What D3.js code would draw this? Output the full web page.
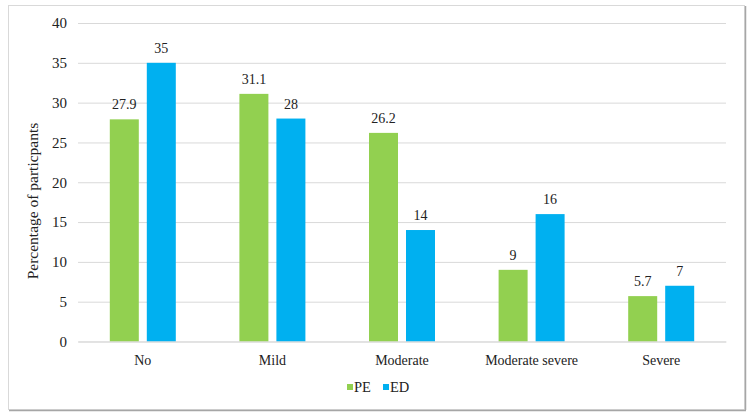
<!DOCTYPE html>
<html>
<head>
<meta charset="utf-8">
<script src="https://cdn.jsdelivr.net/npm/d3@7"></script>
<style>
  body { margin: 0; background: #fff; }
</style>
</head>
<body>
<div id="vis"></div>
<script>
'use strict';

// Chart data
const categories = ["No", "Mild", "Moderate", "Moderate severe", "Severe"];
const seriesNames = ["PE", "ED"];
const peValues = [27.9, 31.1, 26.2, 9, 5.7];
const edValues = [35, 28, 14, 16, 7];
const yTicks = [0, 5, 10, 15, 20, 25, 30, 35, 40];

const colors = { "PE": "#92D050", "ED": "#00B0F0" };
const serif = "'Liberation Serif', 'Times New Roman', serif";

const constraints = {
    width: 750,
    height: 417,
    plot: { left: 78, right: 726, top: 23, bottom: 341.5 }
};

let svg = d3.select("#vis").append("svg")
    .attr("width", constraints.width)
    .attr("height", constraints.height)
    .style("font-family", serif);

// Frame around the chart
svg.append("rect")
    .attr("x", 8.5).attr("y", 5.5)
    .attr("width", 736).attr("height", 404)
    .attr("fill", "none")
    .attr("stroke", "#d9d9d9");
svg.append("line")
    .attr("x1", 745.5).attr("x2", 745.5).attr("y1", 6).attr("y2", 410)
    .attr("stroke", "#a6a6a6").attr("stroke-width", 1.5);
svg.append("line")
    .attr("x1", 9).attr("x2", 746).attr("y1", 410.5).attr("y2", 410.5)
    .attr("stroke", "#a6a6a6").attr("stroke-width", 1.5);

let x = d3.scaleBand()
    .domain(categories)
    .range([constraints.plot.left, constraints.plot.right]);

let y = d3.scaleLinear()
    .domain([0, 40])
    .range([constraints.plot.bottom, constraints.plot.top]);

// Gridlines and tick labels
let yAxis = svg.append("g")
    .attr("transform", "translate(" + constraints.plot.left + ",0)")
    .call(d3.axisLeft(y).tickValues(yTicks)
        .tickSize(-(constraints.plot.right - constraints.plot.left))
        .tickPadding(11));
yAxis.attr("font-family", null).attr("font-size", null);
yAxis.select(".domain").remove();
yAxis.selectAll(".tick line").attr("stroke", "#d9d9d9");
yAxis.selectAll(".tick text")
    .style("font-family", serif)
    .style("font-size", "15px")
    .attr("fill", "#222");

// Bars
const barW = 29, gap = 8;
const series = [
    { name: "PE", values: peValues, offset: -(barW + gap / 2) },
    { name: "ED", values: edValues, offset: gap / 2 }
];

series.forEach((s) => {
    let g = svg.append("g");
    g.selectAll("rect")
        .data(categories)
        .enter()
        .append("rect")
            .attr("x", (d) => x(d) + x.bandwidth() / 2 + s.offset)
            .attr("y", (d, i) => y(s.values[i]))
            .attr("width", barW)
            .attr("height", (d, i) => y(0) - y(s.values[i]))
            .attr("fill", colors[s.name]);
    g.selectAll("text")
        .data(categories)
        .enter()
        .append("text")
            .attr("x", (d) => x(d) + x.bandwidth() / 2 + s.offset + barW / 2)
            .attr("y", (d, i) => y(s.values[i]) - 10)
            .attr("text-anchor", "middle")
            .attr("fill", "#222")
            .style("font-family", serif)
            .style("font-size", "14px")
            .text((d, i) => s.values[i]);
});

// Category labels
let xAxis = svg.append("g")
    .attr("transform", "translate(0," + constraints.plot.bottom + ")")
    .call(d3.axisBottom(x).tickSize(0).tickPadding(14));
xAxis.attr("font-family", null).attr("font-size", null);
xAxis.select(".domain").attr("stroke", "#d9d9d9");
xAxis.selectAll(".tick text")
    .style("font-family", serif)
    .style("font-size", "14px")
    .attr("fill", "#222");

// Y axis title
svg.append("text")
    .attr("transform", "translate(38,201) rotate(-90)")
    .attr("text-anchor", "middle")
    .attr("fill", "#222")
    .style("font-family", serif)
    .style("font-size", "15.5px")
    .text("Percentage of particpants");

// Legend
const legendX = [347, 383];
let legend = svg.append("g");
seriesNames.forEach((name, i) => {
    legend.append("rect")
        .attr("x", legendX[i]).attr("y", 384)
        .attr("width", 6).attr("height", 6)
        .attr("fill", colors[name]);
    legend.append("text")
        .attr("x", legendX[i] + 7).attr("y", 392)
        .attr("fill", "#222")
        .style("font-family", serif)
        .style("font-size", "14.5px")
        .text(name);
});
</script>
</body>
</html>
